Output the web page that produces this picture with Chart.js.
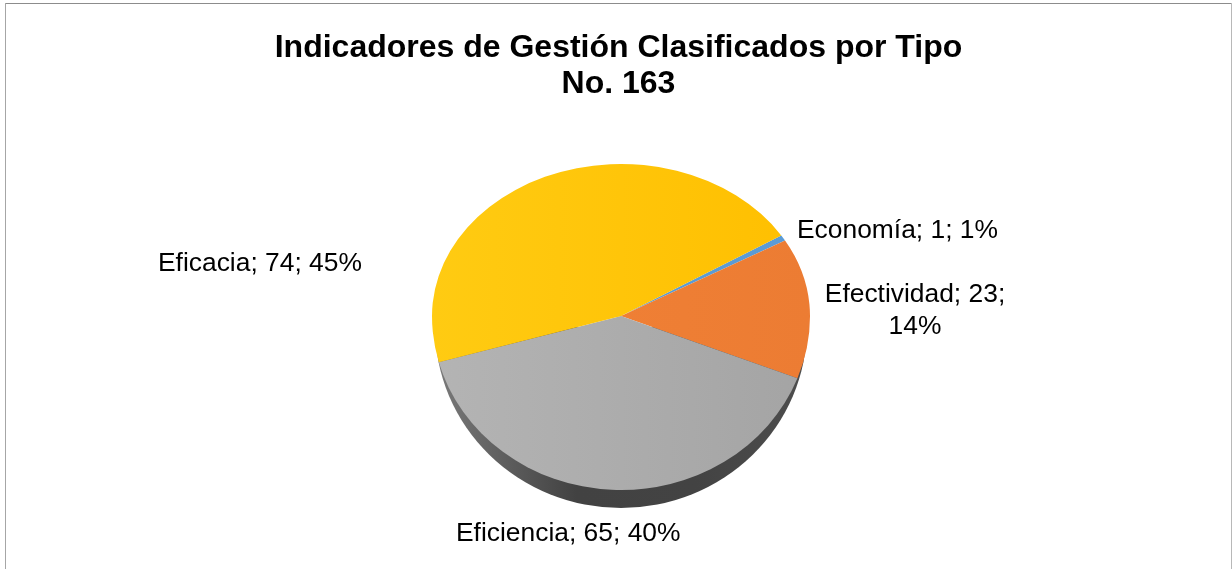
<!DOCTYPE html>
<html>
<head>
<meta charset="utf-8">
<style>html,body{margin:0;padding:0;background:#fff}canvas{display:block}</style>
<script src="https://cdn.jsdelivr.net/npm/chart.js@4/dist/chart.umd.min.js"></script>
</head>
<body>
<canvas id="c" width="1232" height="569"></canvas>
<script>
const titleLines = ['Indicadores de Gestión Clasificados por Tipo', 'No. 163'];
const categories = ['Economía', 'Efectividad', 'Eficiencia', 'Eficacia'];
const values = [1, 23, 65, 74];
const percents = [1, 14, 40, 45];
const colorsLight = ['#5B9BD5', '#F28236', '#B4B4B4', '#FFCB12'];
const colorsDark = ['#5B9BD5', '#EC7C33', '#A4A4A4', '#FFBF00'];

const FONT = '"Liberation Sans", Arial, sans-serif';
const PIE = {cx: 621, cy: 316, rx: 189, ryTop: 152, ryBottom: 174, wallCy: 327, wallRx: 186, wallRy: 181};
const LABELS = [
  {x: 797, y: 230.5, align: 'left'},
  {x: 915, y: 294.5, align: 'center', wrap: true},
  {x: 456, y: 534, align: 'left'},
  {x: 158, y: 263.5, align: 'left'}
];

const frame = {
  id: 'frame',
  beforeDraw(chart) {
    const c = chart.ctx;
    c.save();
    c.fillStyle = '#fff'; c.fillRect(0, 0, chart.width, chart.height);
    c.fillStyle = '#8c8c8c'; c.fillRect(5, 3, 1226, 1);
    c.fillStyle = '#a6a6a6'; c.fillRect(5, 3, 1, chart.height);
    c.fillStyle = '#b8b8b8'; c.fillRect(1231, 3, 1, chart.height);
    c.restore();
  }
};

const tilted = {
  id: 'tilted',
  beforeDatasetDraw(chart, args) {
    const c = chart.ctx, meta = args.meta, a = meta.data[0];
    const ax = a.x, ay = a.y, r = a.outerRadius;
    // side wall (only the lower half can show below the top surface)
    c.save();
    const g = c.createLinearGradient(PIE.cx - PIE.wallRx, 0, PIE.cx + PIE.wallRx, 0);
    g.addColorStop(0, '#7a7a7a');
    g.addColorStop(0.18, '#5f5f5f');
    g.addColorStop(0.38, '#424242');
    g.addColorStop(0.7, '#434343');
    g.addColorStop(1, '#4d4d4d');
    c.fillStyle = g;
    c.beginPath();
    c.ellipse(PIE.cx, PIE.wallCy, PIE.wallRx, PIE.wallRy, 0, 0, Math.PI);
    c.closePath();
    c.fill();
    c.restore();
    // top surface: two half ellipses meeting at the apex
    const parts = [
      {y: 0, h: PIE.cy + 0.5, ry: PIE.ryTop},
      {y: PIE.cy - 0.5, h: chart.height, ry: PIE.ryBottom}
    ];
    parts.forEach(p => {
      c.save();
      c.beginPath(); c.rect(0, p.y, chart.width, p.h); c.clip();
      c.translate(PIE.cx, PIE.cy);
      c.scale(PIE.rx / r, p.ry / r);
      c.translate(-ax, -ay);
      meta.data.forEach(el => el.draw(c));
      c.restore();
    });
    return false;
  },
  afterDraw(chart) {
    const c = chart.ctx;
    c.save();
    c.fillStyle = '#000';
    c.font = '26.4px ' + FONT;
    c.textBaseline = 'middle';
    categories.forEach((name, i) => {
      const L = LABELS[i];
      c.textAlign = L.align;
      if (L.wrap) {
        c.fillText(name + '; ' + values[i] + ';', L.x, L.y);
        c.fillText(percents[i] + '%', L.x, L.y + 32);
      } else {
        c.fillText(name + '; ' + values[i] + '; ' + percents[i] + '%', L.x, L.y);
      }
    });
    c.restore();
  }
};

new Chart(document.getElementById('c'), {
  type: 'pie',
  data: {
    labels: categories,
    datasets: [{
      data: values,
      borderWidth: 0,
      backgroundColor(ctx) {
        const area = ctx.chart.chartArea;
        const i = ctx.dataIndex;
        if (!area) return colorsDark[i];
        const mid = (area.left + area.right) / 2;
        const g = ctx.chart.ctx.createLinearGradient(mid - 189, 0, mid + 189, 0);
        g.addColorStop(0, colorsLight[i]);
        g.addColorStop(1, colorsDark[i]);
        return g;
      }
    }]
  },
  options: {
    responsive: false,
    animation: false,
    rotation: 58,
    layout: {padding: {left: 5, right: 0, top: 30, bottom: 64}},
    plugins: {
      legend: {display: false},
      tooltip: {enabled: false},
      title: {
        display: true,
        text: titleLines,
        color: '#000',
        font: {family: FONT, size: 32, weight: 'bold', lineHeight: 1.125},
        padding: {top: 0, bottom: 25}
      }
    }
  },
  plugins: [frame, tilted]
});
</script>
</body>
</html>
